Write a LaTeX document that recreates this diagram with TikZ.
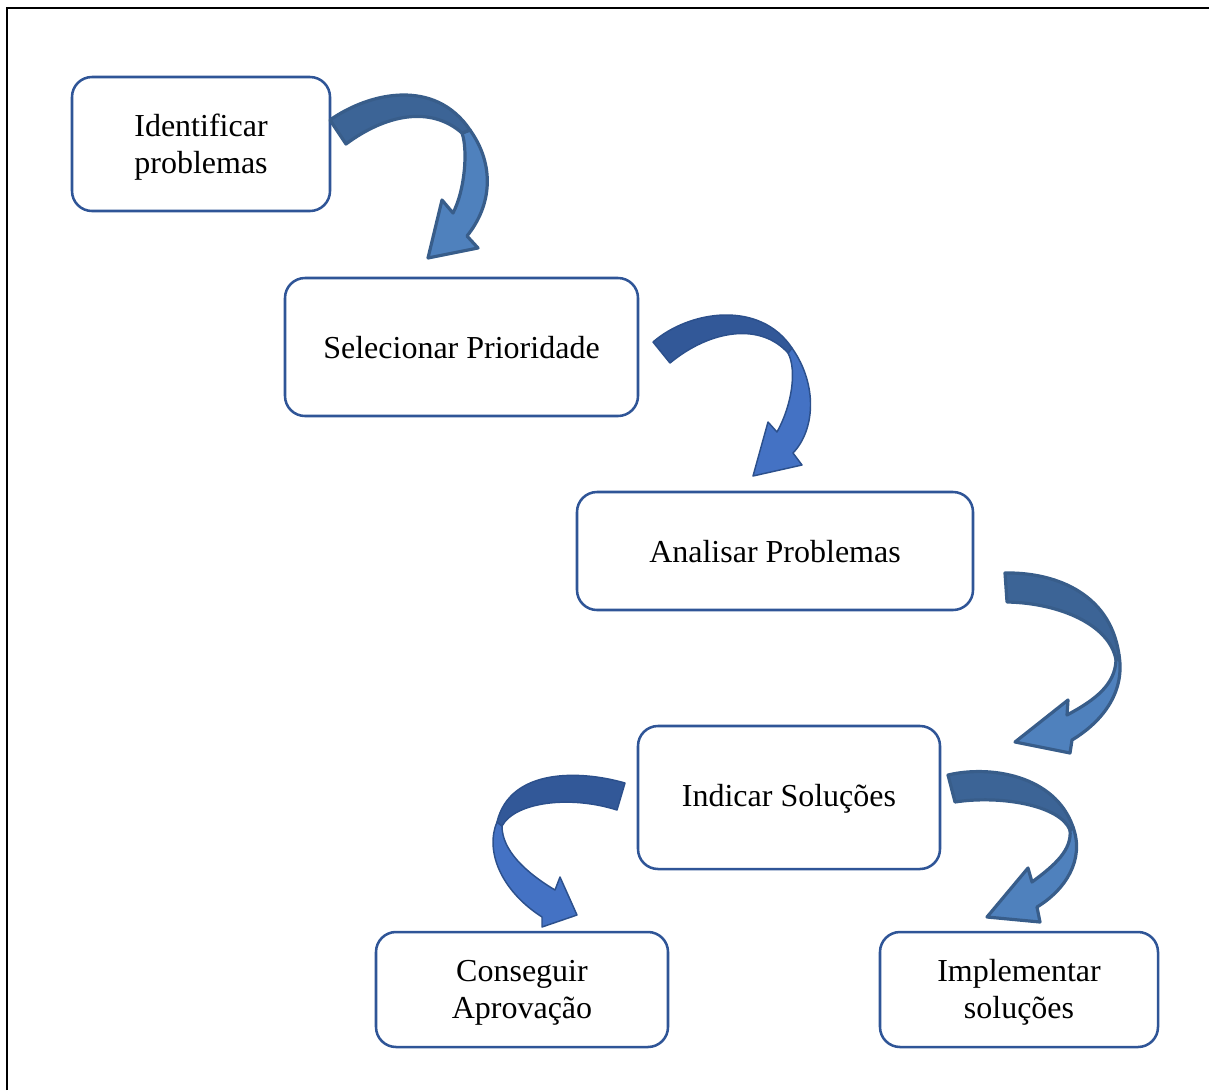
\documentclass[tikz,border=0pt]{standalone}
\usepackage{fontspec}
\setmainfont{Liberation Serif}
\definecolor{boxblue}{RGB}{47,85,151}
\definecolor{aOut}{RGB}{56,93,138}
\definecolor{aDark}{RGB}{60,100,150}
\definecolor{aLight}{RGB}{79,129,189}
\definecolor{bOut}{RGB}{44,80,140}
\definecolor{bDark}{RGB}{50,88,152}
\definecolor{bLight}{RGB}{68,114,196}
\begin{document}
\begin{tikzpicture}[x=0.75pt,y=-0.75pt,
  procbox/.style={draw=boxblue,line width=1.9pt,rounded corners=15pt,fill=white,inner sep=0pt},
  boxtext/.style={align=center,inner sep=0pt,font=\fontsize{24}{27.6}\selectfont},
  thickA/.style={draw=aOut,line width=2.4pt,line join=round},
  thinB/.style={draw=bOut,line width=1.1pt,line join=round},
  darkA/.style={thickA,fill=aDark},
  lightA/.style={thickA,fill=aLight},
  darkB/.style={thinB,fill=bDark},
  lightB/.style={thinB,fill=bLight}]
\useasboundingbox (0,0) rectangle (1209,1090);
\draw[line width=1.5pt] (7,1090) -- (7,8) -- (1209,8);

% boxes
\node[procbox,minimum width=193.5pt,minimum height=100.5pt] (b1) at (201,144) {};
\node[procbox,minimum width=264.75pt,minimum height=103.5pt] (b2) at (461.5,347) {};
\node[procbox,minimum width=297pt,minimum height=88.5pt] (b3) at (775,551) {};
\node[procbox,minimum width=226.5pt,minimum height=107.25pt] (b4) at (789,797.5) {};
\node[procbox,minimum width=219pt,minimum height=86.25pt] (b5) at (522,989.5) {};
\node[procbox,minimum width=208.5pt,minimum height=86.25pt] (b6) at (1019,989.5) {};

\node[boxtext] (t1) at ([yshift=-2.25pt]b1.center) {Identificar\\problemas};
\node[boxtext] (t2) at ([yshift=-0.75pt]b2.center) {Selecionar Prioridade};
\node[boxtext] (t3) at ([yshift=-0.75pt]b3.center) {Analisar Problemas};
\node[boxtext] (t4) at ([yshift=-0.75pt]b4.center) {Indicar Soluções};
\node[boxtext] (t5) at ([yshift=-2.25pt]b5.center) {Conseguir\\Aprovação};
\node[boxtext] (t6) at ([yshift=-2.25pt]b6.center) {Implementar\\soluções};

% arrow 1
\filldraw[lightA] (470,130) .. controls (495,165) and (492,205) .. (467,236) -- (478,248) -- (428,258) -- (442,200) -- (453,213)
  .. controls (465,190) and (468,150) .. (462,133) -- cycle;
\filldraw[darkA] (330,120) .. controls (370,92) and (435,78) .. (470,130) -- (462,133)
  .. controls (430,105) and (385,115) .. (346,144) -- cycle;

% arrow 2
\filldraw[lightB] (792,348) .. controls (818,385) and (815,430) .. (793,453) -- (802,465) -- (753,476) -- (768,422) -- (777,432)
  .. controls (792,405) and (797,370) .. (788,353) -- cycle;
\filldraw[darkB] (653,342) .. controls (690,310) and (760,300) .. (792,348) -- (788,353)
  .. controls (760,322) and (710,330) .. (670,363) -- cycle;

% arrow 3
\filldraw[lightA] (1119,655) .. controls (1125,690) and (1105,720) .. (1072,740) -- (1070,753) -- (1015,742) -- (1068,700) -- (1067,715)
  .. controls (1095,700) and (1115,685) .. (1116,660) -- cycle;
\filldraw[darkA] (1005,573) .. controls (1050,572) and (1110,590) .. (1119,655) -- (1116,660)
  .. controls (1110,625) and (1060,603) .. (1007,602) -- cycle;

% arrow 4
\filldraw[lightB] (497,822) .. controls (485,850) and (500,890) .. (542,917) -- (542,927) -- (577,915) -- (560,877) -- (555,890)
  .. controls (525,872) and (502,850) .. (502,826) -- cycle;
\filldraw[darkB] (625,783) .. controls (580,770) and (510,768) .. (497,822) -- (502,826)
  .. controls (515,802) and (570,795) .. (617,810) -- cycle;

% arrow 5
\filldraw[lightA] (1073,827) .. controls (1085,860) and (1065,890) .. (1037,907) -- (1040,922) -- (987,917) -- (1028,868) -- (1032,882)
  .. controls (1055,865) and (1072,850) .. (1070,830) -- cycle;
\filldraw[darkA] (948,775) .. controls (990,765) and (1055,775) .. (1073,827) -- (1070,830)
  .. controls (1060,805) and (1000,795) .. (955,802) -- cycle;
\end{tikzpicture}
\end{document}
